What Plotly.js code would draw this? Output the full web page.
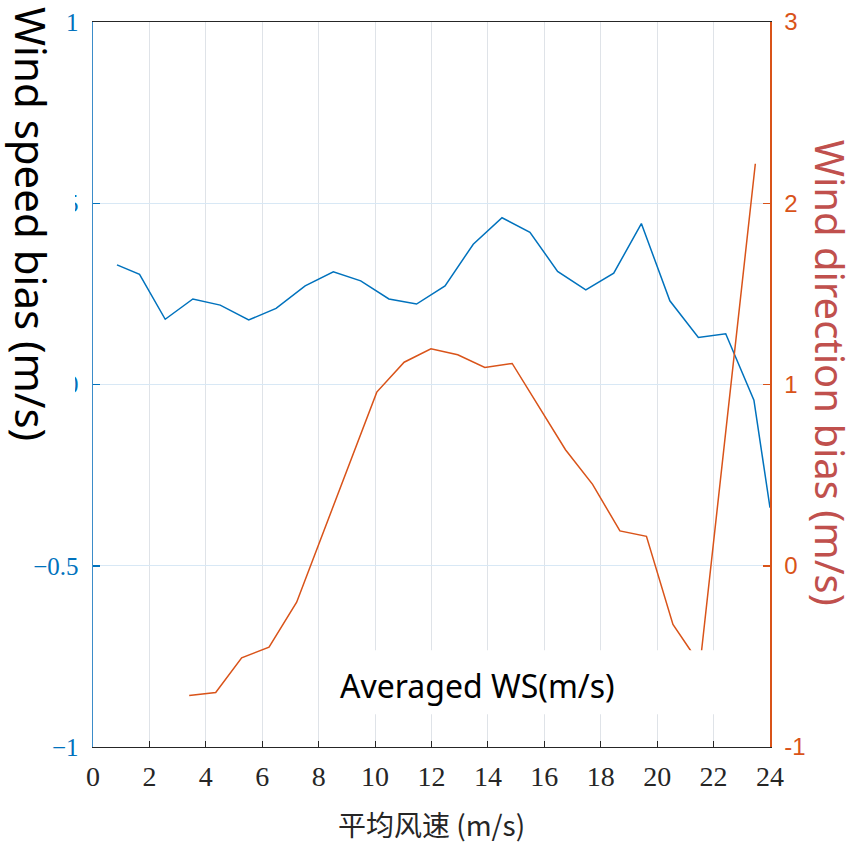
<!DOCTYPE html>
<html>
<head>
<meta charset="utf-8">
<script src="https://cdn.plot.ly/plotly-3.0.1.min.js"></script>
<style>html,body{margin:0;padding:0;background:#fff;}#chart{width:861px;height:844px;}</style>
</head>
<body>
<div id="chart"></div>
<script>
// ---- data ----
var wsX = [0.85,1.65,2.56,3.54,4.51,5.52,6.49,7.52,8.52,9.49,10.49,11.47,12.48,13.48,14.50,15.49,16.47,17.47,18.46,19.44,20.45,21.46,22.43,23.43,24.0];
var wsBias = [0.330,0.304,0.180,0.236,0.219,0.178,0.210,0.272,0.311,0.286,0.236,0.222,0.272,0.387,0.460,0.420,0.312,0.261,0.307,0.444,0.231,0.130,0.140,-0.043,-0.340];
var wdX = [3.41,4.35,5.27,6.24,7.22,10.06,11.03,11.98,12.93,13.89,14.86,16.75,17.71,18.68,19.62,20.56,21.52,23.48];
var wdBias = [-0.716,-0.699,-0.508,-0.449,-0.201,0.958,1.123,1.197,1.164,1.094,1.116,0.640,0.449,0.192,0.162,-0.324,-0.545,2.218];
var xTicks = [0,2,4,6,8,10,12,14,16,18,20,22,24];
var yLeftTicks = [-1,-0.5,0,0.5,1];
var yLeftLabels = ["\u22121","\u22120.5","0","0.5","1"];
var yRightTicks = [-1,0,1,2,3];
var yRightLabels = ["-1","0","1","2","3"];
var xTitle = "平均风速 (m/s)";
var leftTitle = "Wind speed bias (m/s)";
var rightTitle = "Wind direction bias (m/s)";
var noteText = "Averaged WS(m/s)";

// ---- layout geometry (pixels) ----
var W = 861, H = 844;
var L = 93, R = 770.5, T = 22, B = 746.7;
function px(x){ return (x - L) / (R - L); }
function py(y){ return (B - y) / (B - T); }

var BLUE = '#0072BD', ORANGE = '#D95319';

var traces = [
  {x: wsX, y: wsBias, type: 'scatter', mode: 'lines', yaxis: 'y',
   line: {color: BLUE, width: 1.5}, hoverinfo: 'skip', showlegend: false},
  {x: wdX, y: wdBias, type: 'scatter', mode: 'lines', yaxis: 'y2',
   line: {color: ORANGE, width: 1.5}, hoverinfo: 'skip', showlegend: false}
];

var layout = {
  width: W, height: H,
  margin: {l: L, r: W - R, t: T, b: H - B, pad: 0},
  paper_bgcolor: '#fff', plot_bgcolor: '#fff',
  showlegend: false,
  xaxis: {
    range: [0, 24], tickvals: xTicks, ticktext: xTicks.map(String),
    ticks: 'inside', ticklen: 6, tickcolor: '#262626', tickwidth: 1,
    showline: true, linecolor: '#262626', linewidth: 1, mirror: true,
    showgrid: true, gridcolor: '#dfe3e8', gridwidth: 1, zeroline: false,
    tickfont: {family: 'Liberation Serif, serif', size: 28, color: '#262626'},
    ticklabelstandoff: 4,
    title: {text: xTitle, font: {family: 'Noto Sans CJK SC, sans-serif', size: 28, color: '#262626'}, standoff: 26}
  },
  yaxis: {
    range: [-1, 1], tickvals: yLeftTicks, ticktext: yLeftLabels,
    ticks: 'inside', ticklen: 7, tickcolor: BLUE, tickwidth: 1.5,
    showline: true, linecolor: '#3b8cc9', linewidth: 1.5,
    showgrid: true, gridcolor: '#d8e8f5', gridwidth: 1, zeroline: false,
    tickfont: {family: 'Liberation Serif, serif', size: 25, color: BLUE},
    ticklabelstandoff: 8
  },
  yaxis2: {
    range: [-1, 3], tickvals: yRightTicks, ticktext: yRightLabels,
    overlaying: 'y', side: 'right', anchor: 'x',
    ticks: 'inside', ticklen: 7, tickcolor: ORANGE, tickwidth: 1.5,
    showline: true, linecolor: ORANGE, linewidth: 1.5,
    showgrid: false, zeroline: false,
    tickfont: {family: 'Liberation Sans, Arial, sans-serif', size: 24, color: ORANGE},
    ticklabelstandoff: 8
  },
  shapes: [
    {type: 'rect', xref: 'paper', yref: 'paper', layer: 'above',
     x0: px(0), x1: px(75), y0: py(445), y1: py(36),
     fillcolor: '#fff', line: {width: 0}},
    {type: 'rect', xref: 'paper', yref: 'paper', layer: 'above',
     x0: px(325), x1: px(720), y0: py(714), y1: py(650),
     fillcolor: '#fff', line: {width: 0}}
  ],
  annotations: [
    {text: leftTitle, xref: 'paper', yref: 'paper', x: px(32), y: py(224),
     xanchor: 'center', yanchor: 'middle', textangle: 90, showarrow: false,
     font: {family: 'Noto Sans, Open Sans, sans-serif', size: 42, color: '#000'}},
    {text: rightTitle, xref: 'paper', yref: 'paper', x: px(831), y: py(373),
     xanchor: 'center', yanchor: 'middle', textangle: 90, showarrow: false,
     font: {family: 'Noto Sans, Open Sans, sans-serif', size: 40, color: '#C0504D'}},
    {text: noteText, xref: 'paper', yref: 'paper', x: px(478), y: py(685),
     xanchor: 'center', yanchor: 'middle', showarrow: false,
     font: {family: 'Noto Sans, Open Sans, sans-serif', size: 32, color: '#000'}}
  ]
};

Plotly.newPlot('chart', traces, layout, {staticPlot: true, displayModeBar: false});
</script>
</body>
</html>
